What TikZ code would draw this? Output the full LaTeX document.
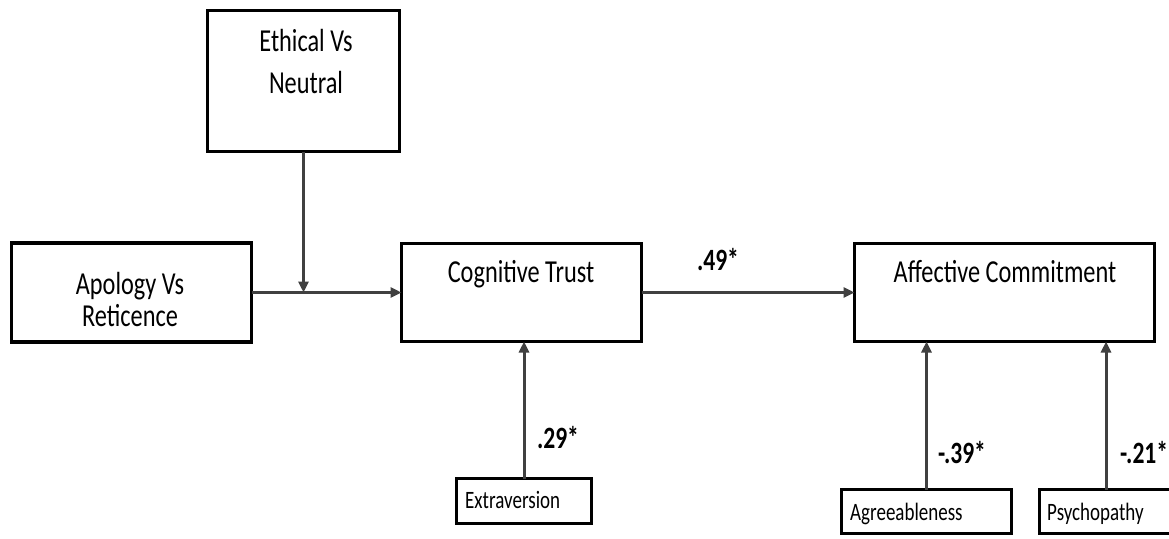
\documentclass[tikz,border=0pt]{standalone}
\usepackage{fontspec}
\setmainfont{Carlito}[FakeStretch=0.76]
\usetikzlibrary{arrows.meta}
\definecolor{arrgray}{HTML}{404040}
\begin{document}
\begin{tikzpicture}[x=1pt,y=-1pt,
  box/.style={draw=black, line width=3.6pt, inner sep=0pt, outer sep=0pt},
  main/.style={font=\fontsize{32}{32}\selectfont, inner sep=0pt, anchor=base, align=center},
  small/.style={font=\fontsize{25}{25}\selectfont, inner sep=0pt, anchor=base west},
  coef/.style={font=\bfseries\fontsize{31}{31}\selectfont, inner sep=0pt, anchor=base},
  arr/.style={draw=arrgray, line width=3pt, -{Triangle[length=11pt,width=10pt]}}]
\clip (0,0) rectangle (1169,538);
\fill[white] (0,0) rectangle (1169,538);
% boxes
\node[box, minimum width=192pt, minimum height=141pt] (eth) at (303.5,81) {};
\node[box, minimum width=240pt, minimum height=99pt] (apo) at (131.5,292.5) {};
\node[box, minimum width=240pt, minimum height=98pt] (cog) at (521.5,292.5) {};
\node[box, minimum width=300pt, minimum height=98pt] (aff) at (1004.5,292.5) {};
\node[box, minimum width=135pt, minimum height=45pt] (ext) at (524,501) {};
\node[box, minimum width=170pt, minimum height=44pt] (agr) at (926.5,511.5) {};
\node[box, minimum width=133pt, minimum height=44pt] (psy) at (1106,511.5) {};
% texts
\node[main] (etht) at (306,93) {Ethical Vs\\[10pt]Neutral};
\node[main] (apot) at (130,326) {Apology Vs\\[0pt]Reticence};
\node[main] (cogt) at (521,282) {Cognitive Trust};
\node[main] (afft) at (1005,282) {Affective Commitment};
\node[small] (extt) at (465,508) {Extraversion};
\node[small] (agrt) at (850,520) {Agreeableness};
\node[small] (psyt) at (1047,520) {Psychopathy};
% coefficients
\node[coef] (c49) at (718,270) {.49*};
\node[coef] (c29) at (558,448) {.29*};
\node[coef] (c39) at (962,463) {-.39*};
\node[coef, anchor=base west] (c21) at (1120,463) {-.21*};
% connectors
\coordinate (j) at (eth.south |- apo.east);
\draw[arr] (apo.east) -- (cog.west);
\draw[arr] (eth.south) -- (j);
\draw[arr] (cog.east) -- (aff.west);
\draw[arr] (ext.north) -- (ext.north |- cog.south);
\draw[arr] (agr.north) -- (agr.north |- aff.south);
\draw[arr] (psy.north) -- (psy.north |- aff.south);
\end{tikzpicture}
\end{document}
